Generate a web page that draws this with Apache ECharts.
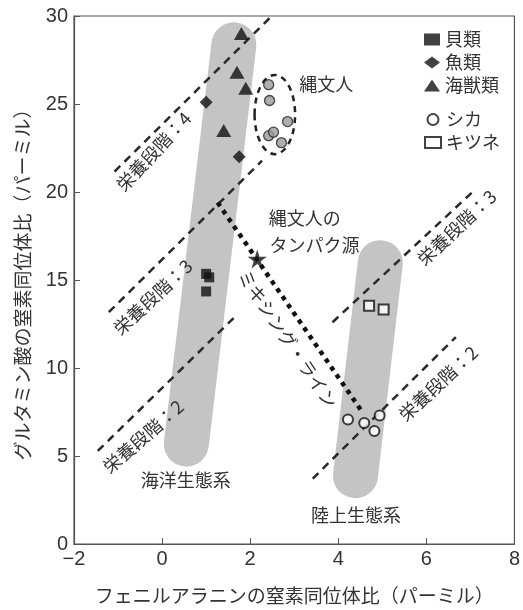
<!DOCTYPE html>
<html>
<head>
<meta charset="utf-8">
<script src="https://cdn.jsdelivr.net/npm/echarts@6/dist/echarts.min.js"></script>
<style>
html, body { margin: 0; padding: 0; background: #fff; }
#chart { width: 523px; height: 610px; }
</style>
</head>
<body>
<div id="chart"></div>
<script>
// 海洋の動物
var shellfish = [[1.0, 15.35], [1.07, 15.15], [1.0, 14.35]];
var fish = [[1.0, 25.1], [1.75, 22.0]];
var seaMammal = [[1.8, 29.0], [1.7, 26.8], [1.9, 25.9], [1.4, 23.5]];
// 縄文人
var jomon = [[2.42, 26.1], [2.44, 25.2], [2.85, 24.0], [2.42, 23.2], [2.53, 23.4], [2.71, 22.8]];
// 陸上の動物
var deer = [[4.22, 7.07], [4.59, 6.88], [4.94, 7.3], [4.82, 6.42]];
var fox = [[4.70, 13.54], [5.03, 13.32]];
// 縄文人のタンパク源・ミキシングライン
var proteinSource = [[2.16, 16.2]];
var mixingLine = [[1.26, 19.4], [4.56, 7.45]];
// 栄養段階の線
var trophic4 = [[-1.08, 21.16], [2.49, 30.0]];
var trophic3a = [[-1.21, 13.17], [2.27, 21.78]];
var trophic2a = [[-1.46, 5.29], [1.69, 13.0]];
var trophic3b = [[3.87, 12.6], [7.06, 20.03]];
var trophic2b = [[3.42, 3.71], [6.67, 11.76]];
// 生態系の帯
var marineBand = [[1.63, 28.36], [0.55, 5.68]];
var landBand = [[4.955, 15.98], [4.39, 3.88]];
// 縄文人を囲む楕円 [中心x, 中心y, 半径x, 半径y]
var jomonEllipse = [[2.56, 24.4, 0.46, 2.25]];
// 注記 [x, y, 文字, 角度]
var notes = [
    [-0.19, 22.3, '栄養段階：4', 47],
    [-0.21, 14.03, '栄養段階：3', 43],
    [-0.43, 6.1, '栄養段階：2', 41],
    [6.69, 17.98, '栄養段階：3', 43],
    [6.27, 9.12, '栄養段階：2', 43],
    [2.85, 11.65, 'ミキシング・ライン', -56],
    [3.73, 26.1, '縄文人', 0],
    [3.24, 18.51, '縄文人の', 0],
    [3.46, 17.0, 'タンパク源', 0],
    [0.54, 3.6, '海洋生態系', 0],
    [4.40, 1.63, '陸上生態系', 0]
];
var xTicks = [-2, 0, 2, 4, 6, 8];
var yTicks = [0, 5, 10, 15, 20, 25, 30];

var jpFont = '"Noto Sans CJK JP", sans-serif';
var textColor = '#333';
var starPath = 'path://M50,0 L61,35 L98,35 L68,57 L79,91 L50,70 L21,91 L32,57 L2,35 L39,35 Z';

function bandSeries(data) {
    return {
        type: 'line', data: data, symbol: 'none', silent: true, z: 1,
        lineStyle: { width: 45, color: '#c4c4c4', cap: 'round' }
    };
}
function dashSeries(data) {
    return {
        type: 'line', data: data, symbol: 'none', silent: true, z: 2,
        lineStyle: { width: 2.5, color: '#2a2a2a', type: [8, 6] }
    };
}

var chart = echarts.init(document.getElementById('chart'));
var option = {
    animation: false,
    grid: { left: 74, right: 4, top: 16, bottom: 61, show: true, borderColor: '#555', borderWidth: 1.2 },
    xAxis: {
        type: 'value', min: xTicks[0], max: xTicks[xTicks.length - 1], interval: 2,
        name: 'フェニルアラニンの窒素同位体比（パーミル）', nameLocation: 'middle', nameGap: 42,
        nameTextStyle: { fontFamily: jpFont, fontSize: 19, color: textColor },
        axisLine: { onZero: false, lineStyle: { color: '#555', width: 1.2 } },
        axisTick: { inside: true, length: 6, lineStyle: { color: '#555' } },
        splitLine: { show: false },
        axisLabel: {
            fontFamily: '"Liberation Sans", Arial', fontSize: 20, color: textColor, margin: 5,
            formatter: function (v) { return String(v).replace('-', '\u2212'); }
        }
    },
    yAxis: {
        type: 'value', min: yTicks[0], max: yTicks[yTicks.length - 1], interval: 5,
        name: 'グルタミン酸の窒素同位体比（パーミル）', nameLocation: 'middle', nameGap: 42,
        nameTextStyle: { fontFamily: jpFont, fontSize: 19, color: textColor },
        axisLine: { onZero: false, lineStyle: { color: '#555', width: 1.2 } },
        axisTick: { inside: true, length: 6, lineStyle: { color: '#555' } },
        splitLine: { show: false },
        axisLabel: { fontFamily: '"Liberation Sans", Arial', fontSize: 20, color: textColor, margin: 6 }
    },
    legend: [{
        data: ['貝類', '魚類', '海獣類'], orient: 'vertical', left: 424, top: 28, padding: 0,
        itemWidth: 16, itemHeight: 12, itemGap: 0,
        textStyle: { fontFamily: jpFont, fontSize: 18, color: textColor, lineHeight: 23 }
    }, {
        data: ['シカ', 'キツネ'], orient: 'vertical', left: 424, top: 108, padding: 0,
        itemWidth: 16, itemHeight: 11, itemGap: 0,
        textStyle: { fontFamily: jpFont, fontSize: 18, color: textColor, lineHeight: 23 }
    }],
    series: [
        bandSeries(marineBand),
        bandSeries(landBand),
        dashSeries(trophic4),
        dashSeries(trophic3a),
        dashSeries(trophic2a),
        dashSeries(trophic3b),
        dashSeries(trophic2b),
        {
            type: 'line', data: mixingLine, symbol: 'none', silent: true, z: 3,
            lineStyle: { width: 4.5, color: '#111', type: [4.5, 5] }
        },
        {
            type: 'custom', data: jomonEllipse, silent: true, z: 3,
            renderItem: function (params, api) {
                var c = api.coord([api.value(0), api.value(1)]);
                var s = api.size([api.value(2), api.value(3)]);
                return {
                    type: 'ellipse',
                    shape: { cx: c[0], cy: c[1], rx: s[0], ry: s[1] },
                    style: { fill: 'none', stroke: '#222', lineWidth: 2.5, lineDash: [6, 5] }
                };
            }
        },
        {
            type: 'custom', data: notes.map(function (n) { return [n[0], n[1]]; }), silent: true, z: 4,
            renderItem: function (params, api) {
                var n = notes[params.dataIndex];
                var p = api.coord([api.value(0), api.value(1)]);
                return {
                    type: 'text', x: p[0], y: p[1], rotation: n[3] * Math.PI / 180,
                    style: {
                        text: n[2], align: 'center', verticalAlign: 'middle',
                        font: '18px ' + jpFont, fill: textColor
                    }
                };
            }
        },
        {
            name: '貝類', type: 'scatter', data: shellfish, symbol: 'rect', symbolSize: 10, z: 5,
            itemStyle: { color: '#111' }
        },
        {
            name: '魚類', type: 'scatter', data: fish, symbol: 'diamond', symbolSize: 13, z: 5,
            itemStyle: { color: '#111' }
        },
        {
            name: '海獣類', type: 'scatter', data: seaMammal, symbol: 'triangle', symbolSize: [15, 13], z: 5,
            itemStyle: { color: '#111' }
        },
        {
            name: '縄文人', type: 'scatter', data: jomon, symbol: 'circle', symbolSize: 10, z: 5,
            itemStyle: { color: '#9a9a9a', borderColor: '#222', borderWidth: 1.3 }
        },
        {
            name: 'シカ', type: 'scatter', data: deer, symbol: 'circle', symbolSize: 10, z: 5,
            itemStyle: { color: '#fff', borderColor: '#111', borderWidth: 2 }
        },
        {
            name: 'キツネ', type: 'scatter', data: fox, symbol: 'rect', symbolSize: 10, z: 5,
            itemStyle: { color: '#fff', borderColor: '#111', borderWidth: 2 }
        },
        {
            name: 'タンパク源', type: 'scatter', data: proteinSource, symbol: starPath, symbolSize: 19, z: 6,
            itemStyle: { color: '#111' }
        }
    ]
};
chart.setOption(option);
</script>
</body>
</html>
